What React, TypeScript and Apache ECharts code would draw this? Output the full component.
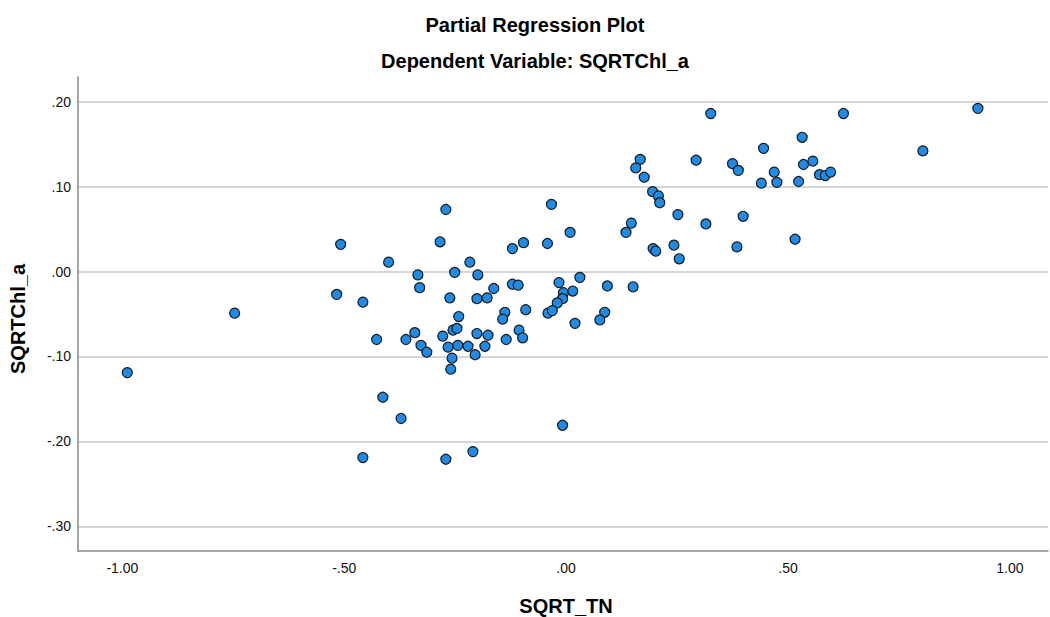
import React, { useEffect, useRef } from "react";
import * as echarts from "echarts";

const titleText = "Partial Regression Plot";
const subtitleText = "Dependent Variable: SQRTChl_a";
const xName = "SQRT_TN";
const yName = "SQRTChl_a";

const xTicks = [-1, -0.5, 0, 0.5, 1];
const yTicks = [0.2, 0.1, 0, -0.1, -0.2, -0.3];

const xValues = [
  -0.989, -0.747, -0.517, -0.508, -0.458, -0.458, -0.427, -0.413, -0.4, -0.372,
  -0.361, -0.341, -0.334, -0.33, -0.327, -0.314, -0.284, -0.278, -0.271, -0.271,
  -0.266, -0.262, -0.26, -0.257, -0.255, -0.251, -0.246, -0.244, -0.242, -0.221,
  -0.217, -0.21, -0.205, -0.201, -0.201, -0.199, -0.183, -0.178, -0.176, -0.163,
  -0.121, -0.096, -0.033, -0.042, 0.009, -0.121, -0.108, -0.138, -0.143, -0.091,
  -0.106, -0.098, -0.135, -0.016, -0.006, -0.008, -0.02, -0.041, -0.031, 0.015,
  0.031, 0.02, -0.008, 0.093, 0.151, 0.087, 0.076, 0.135, 0.147, 0.195,
  0.208, 0.211, 0.176, 0.252, 0.315, 0.385, 0.196, 0.202, 0.243, 0.255,
  0.326, 0.625, 0.928, 0.532, 0.445, 0.804, 0.167, 0.157, 0.293, 0.375,
  0.388, 0.469, 0.44, 0.475, 0.524, 0.535, 0.556, 0.571, 0.584, 0.596,
  0.399, 0.516,
];

const yValues = [
  -0.119, -0.049, -0.027, 0.032, -0.036, -0.219, -0.08, -0.148, 0.011, -0.173,
  -0.08, -0.072, -0.004, -0.019, -0.087, -0.095, 0.035, -0.076, 0.073, -0.221,
  -0.089, -0.031, -0.115, -0.102, -0.069, -0.001, -0.067, -0.087, -0.053, -0.088,
  0.011, -0.212, -0.098, -0.073, -0.032, -0.004, -0.088, -0.031, -0.075, -0.02,
  0.027, 0.034, 0.079, 0.033, 0.046, -0.015, -0.016, -0.048, -0.056, -0.045,
  -0.069, -0.078, -0.08, -0.013, -0.025, -0.032, -0.037, -0.049, -0.046, -0.023,
  -0.007, -0.061, -0.181, -0.017, -0.018, -0.048, -0.057, 0.046, 0.057, 0.094,
  0.089, 0.081, 0.111, 0.067, 0.056, 0.029, 0.027, 0.024, 0.031, 0.015,
  0.186, 0.186, 0.192, 0.158, 0.145, 0.142, 0.132, 0.122, 0.131, 0.127,
  0.119, 0.117, 0.104, 0.105, 0.106, 0.126, 0.13, 0.114, 0.113, 0.117,
  0.065, 0.038,
];

function fmt(v: number): string {
  const s = v.toFixed(2);
  if (s.startsWith("0.")) return s.slice(1);
  if (s.startsWith("-0.")) return "-" + s.slice(2);
  if (s === "-.00") return ".00";
  return s;
}

export default function App() {
  const ref = useRef<HTMLDivElement>(null);
  useEffect(() => {
    document.body.style.margin = "0";
    if (!ref.current) return;
    const chart = echarts.init(ref.current, null, { renderer: "svg" });
    const data = xValues.map((x, i) => [x, yValues[i]]);
    const font = "Arial, 'Liberation Sans', sans-serif";
    chart.setOption({
      animation: false,
      backgroundColor: "#ffffff",
      title: [
        {
          text: titleText,
          left: 530,
          top: 10,
          textAlign: "center",
          textStyle: { fontFamily: font, fontSize: 20, fontWeight: "bold", color: "#000" },
        },
        {
          text: subtitleText,
          left: 530,
          top: 46,
          textAlign: "center",
          textStyle: { fontFamily: font, fontSize: 20, fontWeight: "bold", color: "#000" },
        },
      ],
      grid: {
        left: 78,
        right: 2,
        top: 77,
        bottom: 66,
        containLabel: false,
        outerBoundsMode: "none",
      },
      xAxis: {
        type: "value",
        min: -1.1,
        max: 1.086,
        name: xName,
        nameLocation: "middle",
        nameGap: 45,
        nameTextStyle: {
          fontFamily: font,
          fontSize: 20,
          fontWeight: "bold",
          color: "#000",
          padding: [0, 0, 0, 6],
        },
        axisLine: { show: true, onZero: false, lineStyle: { color: "#888", width: 1.5 } },
        axisTick: { show: false, customValues: xTicks },
        splitLine: { show: false },
        axisLabel: {
          customValues: xTicks,
          formatter: (v: number) => fmt(v),
          fontFamily: font,
          fontSize: 14,
          color: "#111",
          margin: 10,
        },
      },
      yAxis: {
        type: "value",
        min: -0.329,
        max: 0.229,
        name: yName,
        nameLocation: "middle",
        nameGap: 50,
        nameTextStyle: {
          fontFamily: font,
          fontSize: 20,
          fontWeight: "bold",
          color: "#000",
          padding: [0, 10, 0, 0],
        },
        axisLine: { show: true, onZero: false, lineStyle: { color: "#888", width: 1.5 } },
        axisTick: { show: false, customValues: yTicks },
        splitLine: { show: false },
        axisLabel: {
          customValues: yTicks,
          formatter: (v: number) => fmt(v),
          fontFamily: font,
          fontSize: 14,
          color: "#111",
          margin: 7,
        },
      },
      series: [
        {
          type: "scatter",
          data,
          symbol: "circle",
          symbolSize: 10,
          itemStyle: { color: "#1e8ce6", borderColor: "#1a1a1a", borderWidth: 1.2, opacity: 1 },
          markLine: {
            silent: true,
            symbol: "none",
            label: { show: false },
            lineStyle: { color: "#c8c8c8", type: "solid", width: 1.5 },
            data: yTicks.map((v) => ({ yAxis: v })),
            z: 0,
          },
          z: 3,
        },
      ],
    });
    return () => chart.dispose();
  }, []);
  return <div ref={ref} style={{ width: 1050, height: 617 }} />;
}
